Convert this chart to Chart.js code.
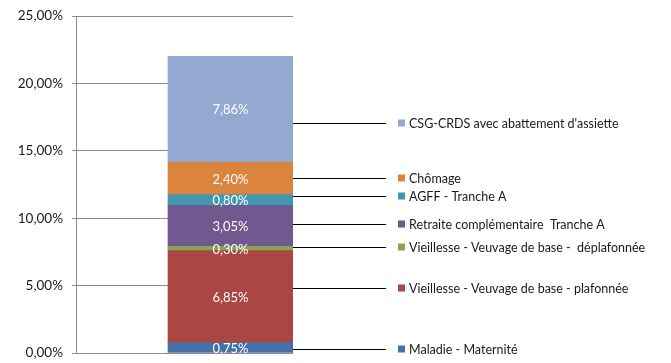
<!DOCTYPE html>
<html>
<head>
<meta charset="utf-8">
<script src="https://cdn.jsdelivr.net/npm/chart.js@4/dist/chart.umd.min.js"></script>
<style>
  html, body { margin: 0; padding: 0; background: #fff; }
  #wrap { position: relative; width: 671px; height: 363px; }
</style>
</head>
<body>
<div id="wrap"><canvas id="chart" width="671" height="363"></canvas></div>
<script>
// ── Data (stacked from bottom to top) ────────────────────────
const seriesNames = [
  "Maladie - Maternité",
  "Vieillesse - Veuvage de base - plafonnée",
  "Vieillesse - Veuvage de base -  déplafonnée",
  "Retraite complémentaire  Tranche A",
  "AGFF - Tranche A",
  "Chômage",
  "CSG-CRDS avec abattement d'assiette",
];
const seriesValues = [0.75, 6.85, 0.30, 3.05, 0.80, 2.40, 7.86];
const yTicks = [0, 5, 10, 15, 20, 25];

const colors = ["#4472A8", "#AA4644", "#89A54E", "#71588F", "#4198AF", "#DB843D", "#93A9CF"];
// nudges (px) Excel applied to the leader lines so the labels don't collide
const leaderShift = [1, -9, -1.5, -2, -4, 0, 14];

const fmt = (v) => v.toFixed(2).replace(".", ",") + "%";
const FONT = "Lato, 'Open Sans', sans-serif";

// ── Labels inside segments + leader lines + legend ───────────
const annotate = {
  id: "annotate",
  afterDatasetsDraw(chart) {
    const ctx = chart.ctx;
    ctx.save();
    chart.data.datasets.forEach((ds, i) => {
      const bar = chart.getDatasetMeta(i).data[0];
      if (!bar) return;
      const midY = (bar.y + bar.base) / 2;

      ctx.fillStyle = "#ffffff";
      ctx.font = "13px " + FONT;
      ctx.textAlign = "center";
      ctx.textBaseline = "middle";
      ctx.fillText(fmt(ds.data[0].y), bar.x, midY + 1);

      const ly = Math.round(midY + leaderShift[i]) + 0.5;
      const right = bar.x + bar.width / 2;
      ctx.strokeStyle = "#000";
      ctx.lineWidth = 1;
      ctx.beginPath();
      ctx.moveTo(right, ly);
      ctx.lineTo(386, ly);
      ctx.stroke();

      ctx.fillStyle = ds.backgroundColor;
      ctx.fillRect(398, ly - 4, 7, 7);
      ctx.fillStyle = "#1a1a1a";
      ctx.textAlign = "left";
      ctx.font = "12.5px " + FONT;
      ctx.fillText(ds.label, 409, ly);
    });
    ctx.restore();
  },
};

new Chart(document.getElementById("chart"), {
  type: "bar",
  data: {
    datasets: seriesNames.map((name, i) => ({
      label: name,
      data: [{ x: 0.712, y: seriesValues[i] }],
      backgroundColor: colors[i],
      borderWidth: 0,
      barThickness: 125,
    })),
  },
  options: {
    responsive: false,
    animation: false,
    layout: { padding: { top: 16, right: 378, bottom: 10, left: 0 } },
    plugins: { legend: { display: false }, tooltip: { enabled: false } },
    scales: {
      x: {
        type: "linear",
        stacked: true,
        offset: false,
        min: 0,
        max: 1,
        display: false,
      },
      y: {
        stacked: true,
        min: 0,
        max: 25,
        afterBuildTicks: (axis) => { axis.ticks = yTicks.map((v) => ({ value: v })); },
        afterFit: (axis) => {
          axis.width = 76;
          axis.paddingTop = 0;
          axis.paddingBottom = 0;
        },
        ticks: {
          callback: (v) => fmt(v),
          color: "#1a1a1a",
          font: { size: 13.5, family: FONT },
          padding: 9,
        },
        grid: { color: "#8c8c8c", tickLength: 4, tickColor: "#8c8c8c" },
        border: { color: "#8c8c8c" },
      },
    },
  },
  plugins: [annotate],
});
</script>
</body>
</html>
